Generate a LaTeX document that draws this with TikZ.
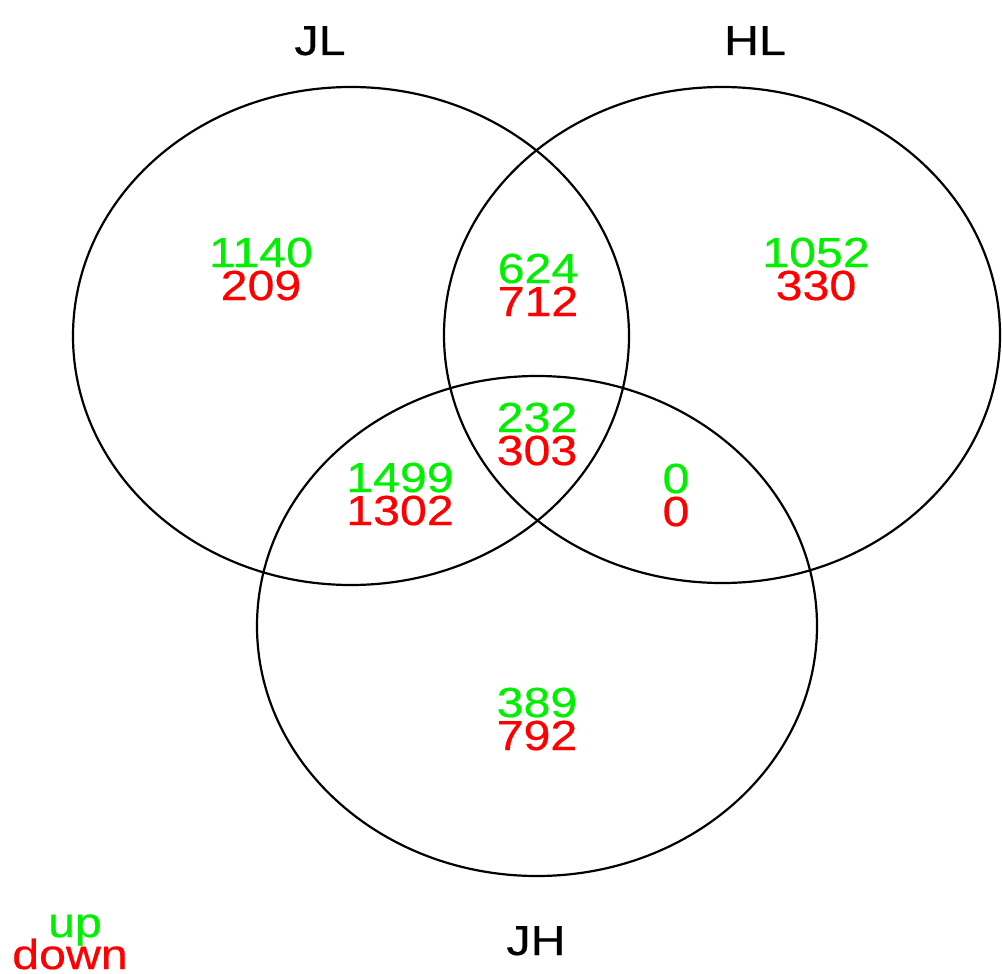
\documentclass[tikz,border=0pt]{standalone}
\usepackage{fontspec}
\usepackage{tikz}
\usetikzlibrary{positioning}
\newfontfamily\vennfont[FakeStretch=1.15,FakeBold=0.5]{Liberation Sans}
\definecolor{vennup}{RGB}{0,240,0}
\definecolor{venndown}{RGB}{255,0,0}

\begin{document}
\begin{tikzpicture}[x=1pt, y=-1pt,
  every node/.style={font=\vennfont\fontsize{42}{46}\selectfont, inner sep=0pt},
  setring/.style={draw=black, line width=2.2pt},
  upnum/.style={text=vennup, anchor=base},
  downnum/.style={text=venndown, anchor=base},
  setname/.style={text=black, anchor=base}
]
\useasboundingbox (0,0) rectangle (1002,974);
% the three sets
\draw[setring] (351,336) ellipse [x radius=278pt, y radius=249pt];
\draw[setring] (722,335) ellipse [x radius=278pt, y radius=248pt];
\draw[setring] (537,626) ellipse [x radius=280pt, y radius=250pt];
\node[setname] (jlname) at (320,55)  {JL};
\node[setname] (hlname) at (755,55)  {HL};
\node[setname] (jhname) at (536,955) {JH};
% counts per region, up over down
\foreach \reg/\px/\py/\up/\dn in {jl/261/267/1140/209, jlhl/538/283/624/712,
    hl/816/267/1052/330, all/537/432/232/303, jljh/400/492/1499/1302,
    hljh/676/493/0/0, jh/537/717/389/792}{
  \node[upnum]   (\reg-up)   at (\px,\py)      {\up};
  \node[downnum] (\reg-down) at (\px,{\py+33}) {\dn};
}
% legend
\node[upnum]   (legup)   at (75,937) {up};
\node[downnum] (legdown) at (70,969) {down};
\end{tikzpicture}
\end{document}
